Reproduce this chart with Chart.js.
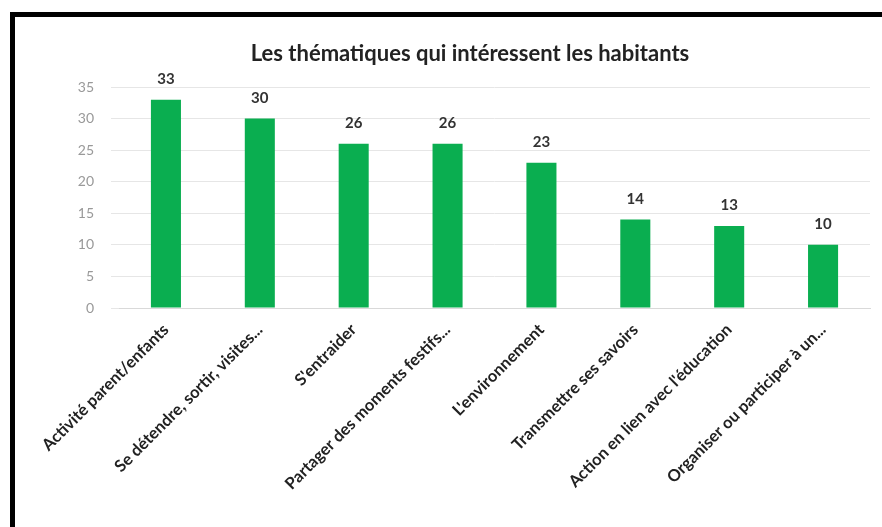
<!DOCTYPE html>
<html>
<head>
<meta charset="utf-8">
<script src="https://cdn.jsdelivr.net/npm/chart.js@4"></script>
<style>
  body { margin: 0; overflow: hidden; background: #fff; }
  #wrap { position: absolute; left: 0; top: 0; width: 882px; height: 527px; }
  #frame { position: absolute; left: 10px; top: 12px; width: 900px; height: 600px;
           border-left: 5px solid #000; border-top: 5px solid #000; pointer-events: none; }
</style>
</head>
<body>
<div id="wrap"><canvas id="myChart" width="882" height="527"></canvas></div>
<div id="frame"></div>
<script>
const categories = ['Activité parent/enfants', 'Se détendre, sortir, visites...', "S'entraider",
    'Partager des moments festifs...', "L'environnement", 'Transmettre ses savoirs',
    "Action en lien avec l'éducation", 'Organiser ou participer à un...'];
const values = [33, 30, 26, 26, 23, 14, 13, 10];
const yTicks = [0, 5, 10, 15, 20, 25, 30, 35];

const font = 'Lato, "Open Sans", sans-serif';

// valeurs au-dessus des barres
const valueLabels = {
    id: 'valueLabels',
    afterDatasetsDraw(chart) {
        const ctx = chart.ctx;
        const meta = chart.getDatasetMeta(0);
        ctx.save();
        ctx.font = 'bold 15px ' + font;
        ctx.fillStyle = '#333';
        ctx.textAlign = 'center';
        ctx.textBaseline = 'bottom';
        meta.data.forEach((bar, i) => {
            ctx.fillText(values[i], bar.x, bar.y - 13);
        });
        ctx.restore();
    }
};

const ctx = document.getElementById('myChart').getContext('2d');
const myChart = new Chart(ctx, {
    type: 'bar',
    data: {
        labels: categories,
        datasets: [{
            data: values,
            backgroundColor: '#0aae50',
            categoryPercentage: 1,
            barPercentage: 0.32
        }]
    },
    options: {
        responsive: false,
        animation: false,
        layout: { padding: { left: 70, right: 12, top: 0, bottom: 9 } },
        plugins: {
            legend: { display: false },
            tooltip: { enabled: false },
            title: {
                display: true,
                text: 'Les thématiques qui intéressent les habitants',
                color: '#222',
                font: { family: font, size: 22, weight: 'bold' },
                padding: { top: 41, bottom: 19.6 }
            }
        },
        scales: {
            x: {
                grid: { display: false },
                border: { display: true, color: '#d9d9d9' },
                ticks: {
                    minRotation: 45,
                    maxRotation: 45,
                    autoSkip: false,
                    padding: 4,
                    color: '#222',
                    font: { family: font, size: 16.5, weight: 'bold' }
                },
                afterFit(scale) { scale.height = 210; }
            },
            y: {
                min: 0,
                max: 35,
                afterBuildTicks(scale) { scale.ticks = yTicks.map(v => ({ value: v })); },
                grid: { color: '#e6e6e6' },
                border: { display: false },
                ticks: {
                    padding: 17,
                    color: '#999',
                    font: { family: font, size: 14 }
                },
                afterFit(scale) { scale.width = 49; }
            }
        }
    },
    plugins: [valueLabels]
});
</script>
</body>
</html>
